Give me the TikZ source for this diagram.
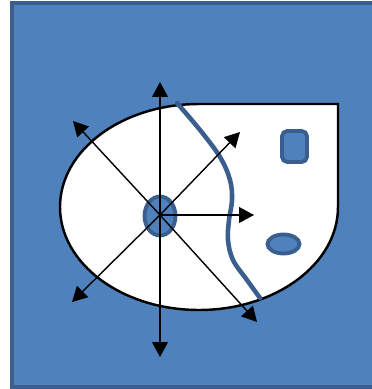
\documentclass[tikz,border=0pt]{standalone}
\usepackage{xcolor}
\usetikzlibrary{arrows.meta, positioning, calc, shapes.geometric}

\definecolor{slideblue}{HTML}{4F81BD}
\definecolor{edgeblue}{HTML}{3A5F8F}

\begin{document}
\begin{tikzpicture}[
  x=0.02cm, y=-0.02cm,
  panel/.style={draw=edgeblue, fill=slideblue, line width=2.2pt},
  region/.style={draw=black, fill=white, line width=1.4pt},
  spot/.style={draw=edgeblue, fill=slideblue, line width=2.2pt, inner sep=0pt},
  border/.style={draw=edgeblue, line width=2.6pt, line cap=round},
  ray/.style={-{Triangle[length=8.5pt, width=9pt]}, black, line width=0.8pt},
]
\useasboundingbox (0,0) rectangle (372,389);

% Background
\draw[panel] (12,3) rectangle (378,387);

% Region
\draw[region] (338,207) arc[start angle=0, end angle=270, x radius=139, y radius=103]
  -- (338,104) -- cycle;

% Boundary curve
\draw[border] plot[smooth, tension=0.6] coordinates {
  (177,103) (200,130) (220,157) (230,180) (232,200) (229,220)
  (228,240) (233,260) (247,280) (260,298)};

% Spots
\node[spot, ellipse, minimum width=0.62cm, minimum height=0.78cm] (src) at (160,216) {};
\node[spot, rectangle, rounded corners=3pt, minimum width=0.5cm, minimum height=0.62cm] (box) at (294.5,146.5) {};
\node[spot, ellipse, minimum width=0.64cm, minimum height=0.38cm] (hole) at (283.5,244) {};

% Ray ends
\coordinate (c) at (160,215);
\coordinate (n) at (160,82);
\coordinate (s) at (160,357);
\coordinate (e) at (254,215);
\coordinate (nw) at (73,121);
\coordinate (ne) at (240,132);
\coordinate (sw) at (72,302);
\coordinate (se) at (257,322);

% Rays
\foreach \t in {n,s,e,nw,ne,sw,se}
  \draw[ray] (c) -- (\t);

\end{tikzpicture}
\end{document}
